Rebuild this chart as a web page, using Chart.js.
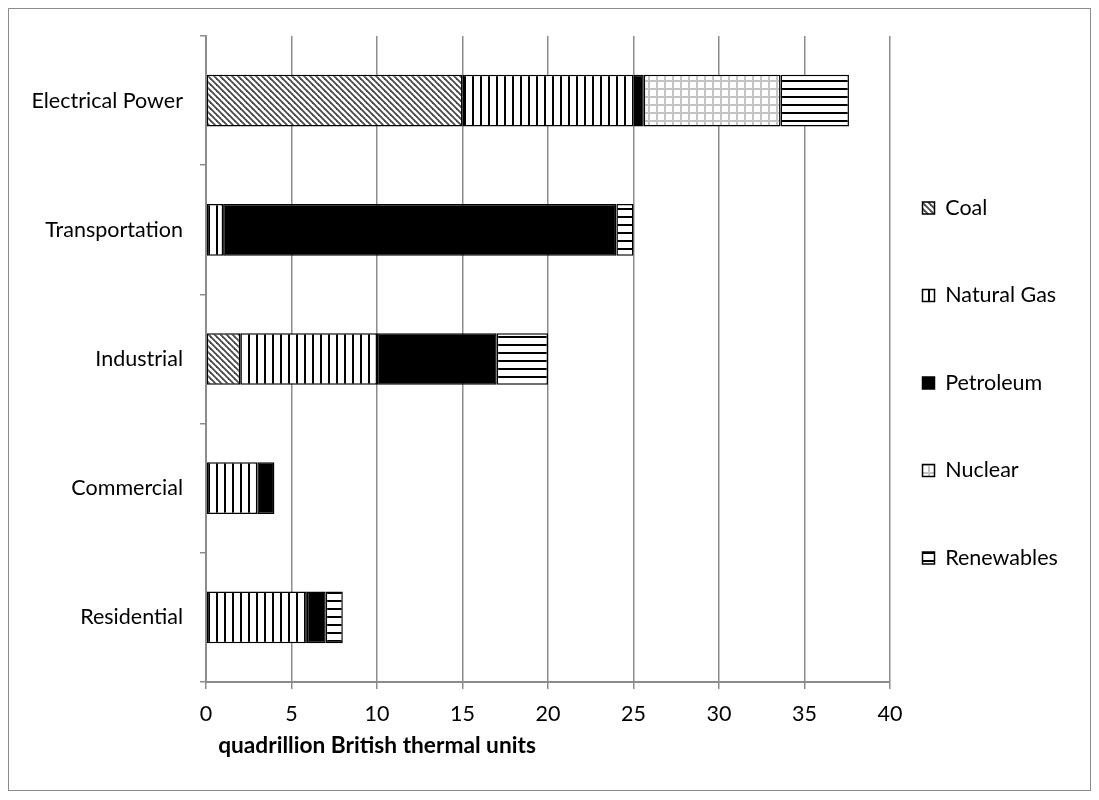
<!DOCTYPE html>
<html>
<head>
<meta charset="utf-8">
<script src="https://cdn.jsdelivr.net/npm/chart.js@4/dist/chart.umd.min.js"></script>
<style>
  html, body { margin: 0; padding: 0; background: #fff; }
</style>
</head>
<body>
<canvas id="grafica" width="1099" height="800"></canvas>
<script>
const sectors = ["Electrical Power", "Transportation", "Industrial", "Commercial", "Residential"];
const sources = ["Coal", "Natural Gas", "Petroleum", "Nuclear", "Renewables"];
const coal = [15.0, 0, 2.0, 0, 0];
const naturalGas = [10.0, 1.0, 8.0, 3.0, 5.9];
const petroleum = [0.6, 23.0, 7.0, 1.0, 1.1];
const nuclear = [8.0, 0, 0, 0, 0];
const renewables = [4.0, 1.0, 3.0, 0, 1.0];
const xTicks = [0, 5, 10, 15, 20, 25, 30, 35, 40];
const xTitle = "quadrillion British thermal units";

const FONT = "Lato";
const FS = 21.5;

function makePattern(size, draw) {
  const c = document.createElement("canvas");
  c.width = size; c.height = size;
  const g = c.getContext("2d");
  g.fillStyle = "#fff";
  g.fillRect(0, 0, size, size);
  draw(g, size);
  return g.createPattern(c, "repeat");
}

const ctx = document.getElementById("grafica").getContext("2d");

const coalFill = makePattern(6, (g, s) => {
  g.strokeStyle = "#474747";
  g.lineWidth = 1.8;
  for (let k = -1; k <= 1; k++) {
    g.beginPath();
    g.moveTo(-1, -1 + s * k);
    g.lineTo(s + 1, s + 1 + s * k);
    g.stroke();
  }
});
const gasFill = makePattern(8, (g, s) => {
  g.fillStyle = "#000";
  g.fillRect(0, 0, 2, s);
});
const nuclearFill = makePattern(8, (g, s) => {
  g.fillStyle = "#c4c4c4";
  g.fillRect(0, 0, 2, s);
  g.fillRect(0, 0, s, 2);
});
const renewFill = makePattern(8, (g, s) => {
  g.fillStyle = "#000";
  g.fillRect(0, 0, s, 2);
});

const fills = [coalFill, gasFill, "#000", nuclearFill, renewFill];
const series = [coal, naturalGas, petroleum, nuclear, renewables];

const frameAndTitle = {
  id: "frameAndTitle",
  afterLayout(chart) {
    // legend sits closer to the plot than Chart.js puts it
    const lg = chart.legend;
    if (lg) lg.left -= 33.5;
  },
  afterDraw(chart) {
    const c = chart.ctx;
    c.save();
    c.strokeStyle = "#8c8c8c";
    c.lineWidth = 1;
    c.strokeRect(8.5, 8.5, 1082, 782);
    c.fillStyle = "#000";
    c.font = "bold 22.7px " + FONT;
    c.textAlign = "center";
    c.textBaseline = "middle";
    c.fillText(xTitle, 377, 746);
    c.restore();
  }
};

Chart.defaults.color = "#000";
Chart.defaults.font.family = FONT;
Chart.defaults.font.size = FS;

new Chart(ctx, {
  type: "bar",
  data: {
    labels: sectors,
    datasets: series.map((d, i) => ({
      label: sources[i],
      data: d,
      backgroundColor: fills[i],
      borderColor: "#000",
      borderWidth: 1.5,
      borderSkipped: false,
      barPercentage: 0.4,
      categoryPercentage: 1
    }))
  },
  options: {
    indexAxis: "y",
    responsive: false,
    animation: false,
    layout: { padding: { top: 36, bottom: 70, left: 0, right: 9 } },
    scales: {
      x: {
        stacked: true,
        min: 0,
        max: 40,
        afterBuildTicks(s) { s.ticks = xTicks.map(v => ({ value: v })); },
        ticks: { padding: 12, color: "#000" },
        grid: { color: "#8c8c8c", lineWidth: 1.5, tickLength: 7 },
        border: { color: "#8c8c8c", width: 2 },
        afterFit(s) { s.height = 48; }
      },
      y: {
        stacked: true,
        ticks: { padding: 17, color: "#000" },
        grid: { drawOnChartArea: false, color: "#8c8c8c", lineWidth: 1.5, tickLength: 6, offset: true },
        border: { color: "#8c8c8c", width: 2 },
        afterFit(s) { s.width = 206; }
      }
    },
    plugins: {
      legend: {
        position: "right",
        maxWidth: 200,
        labels: { boxWidth: 12, boxHeight: 12, padding: 87.5 - FS, color: "#000" }
      },
      tooltip: { enabled: false }
    }
  },
  plugins: [frameAndTitle]
});
</script>
</body>
</html>
